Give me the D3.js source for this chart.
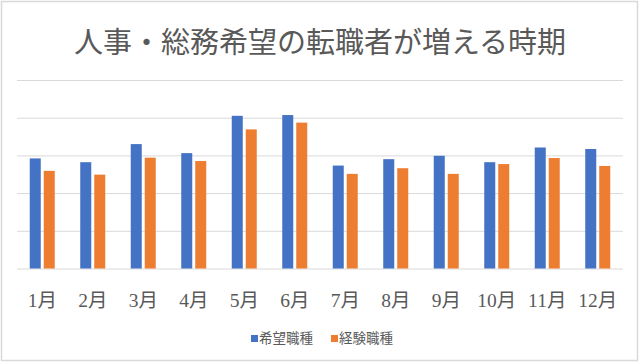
<!DOCTYPE html>
<html>
<head>
<meta charset="utf-8">
<script src="https://cdn.jsdelivr.net/npm/d3@7"></script>
<style>
  body { margin: 0; background: #fff; }
  text { fill: #595959; }
</style>
</head>
<body>
<div id="chart"></div>
<script>
// chart data
var months = ["1月", "2月", "3月", "4月", "5月", "6月", "7月", "8月", "9月", "10月", "11月", "12月"];
var seriesNames = ["希望職種", "経験職種"];
var kibou  = [2.92, 2.82, 3.30, 3.06, 4.05, 4.07, 2.73, 2.90, 2.99, 2.82, 3.21, 3.17];
var keiken = [2.59, 2.49, 2.94, 2.85, 3.69, 3.87, 2.51, 2.66, 2.51, 2.77, 2.93, 2.72];
var gridTicks = [0, 1, 2, 3, 4, 5];

var w = 640, h = 363;
var colors = ["#4472C4", "#ED7D31"];
var serifFont = "'Liberation Serif', 'DejaVu Serif', 'Noto Sans CJK JP', serif";

var svg = d3.select("#chart").append("svg")
    .attr("width", w)
    .attr("height", h);

// outer frame
svg.append("rect")
    .attr("x", 1.5).attr("y", 1.5)
    .attr("width", w - 4).attr("height", h - 4)
    .attr("fill", "#fff")
    .attr("stroke", "#d9d9d9")
    .attr("stroke-width", 1.5);

// title
svg.append("text")
    .attr("x", w / 2)
    .attr("y", 43)
    .attr("text-anchor", "middle")
    .attr("dominant-baseline", "central")
    .style("font-family", serifFont)
    .style("font-size", "29px")
    .text("人事・総務希望の転職者が増える時期");

// scales
var x = d3.scaleBand().domain(months).range([17, 623]).padding(0);
var xSub = d3.scaleBand().domain(seriesNames)
    .range([x.bandwidth() / 2 - 12.5, x.bandwidth() / 2 + 12.5])
    .paddingInner(0.214);
var y = d3.scaleLinear().domain([0, 5]).range([268.5, 80]);

// gridlines
var grid = svg.append("g")
    .attr("transform", "translate(17,0)")
    .call(d3.axisLeft(y).tickValues(gridTicks).tickSize(-606).tickFormat(""));
grid.select(".domain").remove();
grid.selectAll(".tick line").attr("stroke", "#d9d9d9").attr("stroke-width", 1);

// bars
var rows = months.map(function(m, i) {
    return { month: m, vals: [kibou[i], keiken[i]] };
});

var groups = svg.selectAll(".month")
    .data(rows)
    .enter().append("g")
    .attr("class", "month")
    .attr("transform", function(d) { return "translate(" + x(d.month) + ",0)"; });

groups.selectAll("rect")
    .data(function(d) { return d.vals.map(function(v, j) { return { name: seriesNames[j], v: v, j: j }; }); })
    .enter().append("rect")
    .attr("x", function(d) { return xSub(d.name); })
    .attr("width", xSub.bandwidth())
    .attr("y", function(d) { return y(d.v); })
    .attr("height", function(d) { return y(0) - y(d.v); })
    .attr("fill", function(d) { return colors[d.j]; });

// month labels
var xAxis = svg.append("g")
    .attr("transform", "translate(0,268.5)")
    .call(d3.axisBottom(x).tickSize(0).tickPadding(0));
xAxis.select(".domain").remove();
xAxis.selectAll("text")
    .attr("y", 32)
    .attr("dy", 0)
    .attr("dominant-baseline", "central")
    .style("font-family", serifFont)
    .style("font-size", "19.5px")
    .attr("fill", "#595959");

// legend
var legendX = [251, 331];
var legend = svg.selectAll(".legend")
    .data(seriesNames)
    .enter().append("g")
    .attr("class", "legend")
    .attr("transform", function(d, i) { return "translate(" + legendX[i] + ",338.5)"; });
legend.append("rect")
    .attr("x", 0).attr("y", -3.5)
    .attr("width", 7).attr("height", 7)
    .attr("fill", function(d, i) { return colors[i]; });
legend.append("text")
    .attr("x", 8)
    .attr("y", 0)
    .attr("dominant-baseline", "central")
    .style("font-family", serifFont)
    .style("font-size", "13.5px")
    .attr("fill", "#7f7f7f")
    .text(function(d) { return d; });
</script>
</body>
</html>
